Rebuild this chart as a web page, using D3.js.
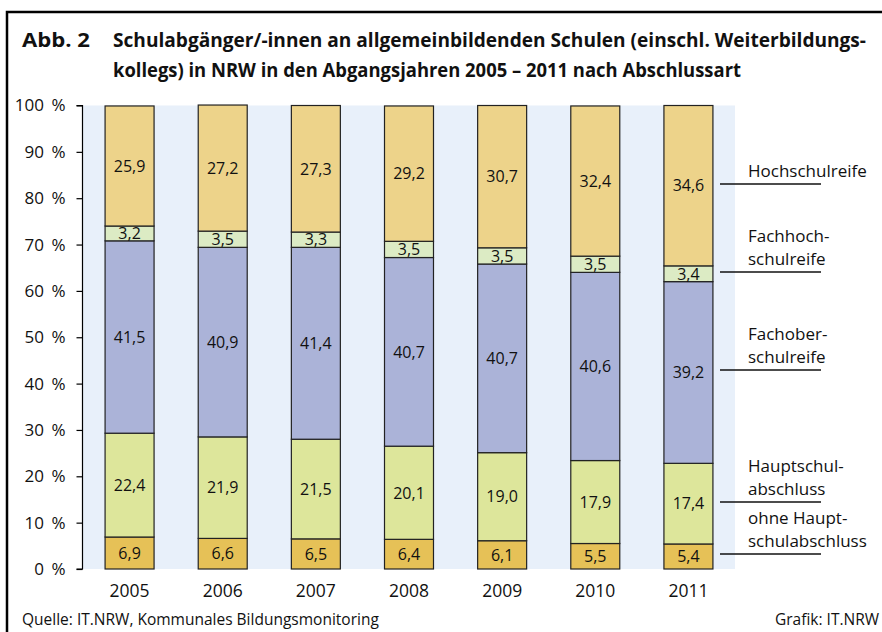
<!DOCTYPE html>
<html>
<head>
<meta charset="utf-8">
<script src="https://cdn.jsdelivr.net/npm/d3@7"></script>
<style>
  body { margin: 0; background: #fff; }
  svg { display: block; font-family: "Open Sans", sans-serif; }
</style>
</head>
<body>
<div id="chart"></div>
<script>
// data (percent)
const years = ["2005", "2006", "2007", "2008", "2009", "2010", "2011"];
const ohneHauptschul = [6.9, 6.6, 6.5, 6.4, 6.1, 5.5, 5.4];
const hauptschul = [22.4, 21.9, 21.5, 20.1, 19.0, 17.9, 17.4];
const fachober = [41.5, 40.9, 41.4, 40.7, 40.7, 40.6, 39.2];
const fachhoch = [3.2, 3.5, 3.3, 3.5, 3.5, 3.5, 3.4];
const hochschul = [25.9, 27.2, 27.3, 29.2, 30.7, 32.4, 34.6];
const yTicks = [0, 10, 20, 30, 40, 50, 60, 70, 80, 90, 100];

const seriesKeys = ["ohne", "haupt", "fachober", "fachhoch", "hoch"];
const seriesLabels = {
  ohne: ["ohne Haupt-", "schulabschluss"],
  haupt: ["Hauptschul-", "abschluss"],
  fachober: ["Fachober-", "schulreife"],
  fachhoch: ["Fachhoch-", "schulreife"],
  hoch: ["Hochschulreife"]
};
const colors = {
  ohne: "#e6c157",
  haupt: "#dde69b",
  fachober: "#abb3d8",
  fachhoch: "#dcebc4",
  hoch: "#edd38a"
};

const table = years.map((y, i) => ({
  year: y,
  ohne: ohneHauptschul[i],
  haupt: hauptschul[i],
  fachober: fachober[i],
  fachhoch: fachhoch[i],
  hoch: hochschul[i]
}));

let width = 882, height = 632;

const svg = d3.select("#chart")
  .append("svg")
  .attr("width", width)
  .attr("height", height);

// frame
svg.append("path")
  .attr("d", `M7,${height} V12 H${width}`)
  .attr("fill", "none")
  .attr("stroke", "#000")
  .attr("stroke-width", 2.5);

// title
const title = svg.append("g").attr("font-weight", "bold").attr("font-size", 19.5).attr("fill", "#111");
function fitText(sel, w) { // squeeze text to the width measured in the picture
  sel.attr("textLength", w).attr("lengthAdjust", "spacingAndGlyphs");
}
title.append("text").attr("x", 22).attr("y", 47).text("Abb. 2").call(fitText, 68);
title.append("text").attr("x", 113).attr("y", 47)
  .text("Schulabgänger/-innen an allgemeinbildenden Schulen (einschl. Weiterbildungs-")
  .call(fitText, 753);
title.append("text").attr("x", 113).attr("y", 77)
  .text("kollegs) in NRW in den Abgangsjahren 2005 – 2011 nach Abschlussart")
  .call(fitText, 628);

// scales
let x = d3.scaleBand()
  .domain(years)
  .range([83, 735])
  .paddingInner(0.474)
  .paddingOuter(0.237);

let y = d3.scaleLinear()
  .domain([0, 100])
  .range([569, 105.5]);

// background
svg.append("rect")
  .attr("x", x.range()[0])
  .attr("y", y(100))
  .attr("width", x.range()[1] - x.range()[0])
  .attr("height", y(0) - y(100))
  .attr("fill", "#e8f0fa");

// y axis
svg.append("g")
  .attr("transform", `translate(82.5,0)`)
  .call(d3.axisLeft(y).tickValues(yTicks).tickSize(6).tickPadding(11).tickFormat(d => d + " %"))
  .call(g => g.selectAll("text").attr("font-size", 17).attr("word-spacing", 3)
    .attr("fill", "#111").attr("font-family", "Open Sans"))
  .call(g => g.selectAll("line, path").attr("stroke", "#000").attr("stroke-width", 1.2))
  .call(g => g.select(".domain").attr("d", `M-6,${y(100)}H0V${y(0)}H-6`));

// x labels
svg.append("g")
  .selectAll("text")
  .data(years)
  .join("text")
  .attr("x", d => x(d) + x.bandwidth() / 2)
  .attr("y", 597)
  .attr("text-anchor", "middle")
  .attr("font-size", 17.5)
  .attr("fill", "#111")
  .text(d => d);

// stacked bars
const stacked = d3.stack().keys(seriesKeys)(table);
const fmt = v => v.toFixed(1).replace(".", ",");

const layers = svg.append("g")
  .selectAll("g")
  .data(stacked)
  .join("g")
  .attr("fill", s => colors[s.key]);

layers.selectAll("rect")
  .data(s => s)
  .join("rect")
  .attr("x", d => x(d.data.year))
  .attr("y", d => y(d[1]))
  .attr("width", x.bandwidth())
  .attr("height", d => y(d[0]) - y(d[1]))
  .attr("stroke", "#222")
  .attr("stroke-width", 1.2);

layers.selectAll("text")
  .data(s => s)
  .join("text")
  .attr("x", d => x(d.data.year) + x.bandwidth() / 2)
  .attr("y", d => y((d[0] + d[1]) / 2))
  .attr("dy", "0.36em")
  .attr("text-anchor", "middle")
  .attr("font-size", 16)
  .attr("fill", "#111")
  .text(d => fmt(d[1] - d[0]));

// legend lines and labels next to the 2011 bar
const last = years.length - 1;
const legend = svg.append("g")
  .selectAll("g")
  .data(stacked)
  .join("g")
  .attr("transform", s => `translate(0,${Math.round(y((s[last][0] + s[last][1]) / 2)) - 2})`);

legend.append("line")
  .attr("x1", 720).attr("x2", 821)
  .attr("stroke", "#111")
  .attr("stroke-width", 1.3);

// one text per label, lines as tspans
legend.append("text")
  .attr("font-size", 17)
  .attr("fill", "#111")
  .selectAll("tspan")
  .data(s => seriesLabels[s.key].map((t, i, a) => ({ t, i, n: a.length })))
  .join("tspan")
  .attr("x", 748)
  .attr("y", d => -7 - (d.n - 1 - d.i) * 23.5)
  .text(d => d.t);

// source
svg.append("text")
  .attr("x", 22).attr("y", 625)
  .attr("font-size", 15.5)
  .attr("fill", "#111")
  .text("Quelle: IT.NRW, Kommunales Bildungsmonitoring");

svg.append("text")
  .attr("x", 775).attr("y", 625)
  .attr("font-size", 15.5)
  .attr("fill", "#111")
  .text("Grafik: IT.NRW");
</script>
</body>
</html>
